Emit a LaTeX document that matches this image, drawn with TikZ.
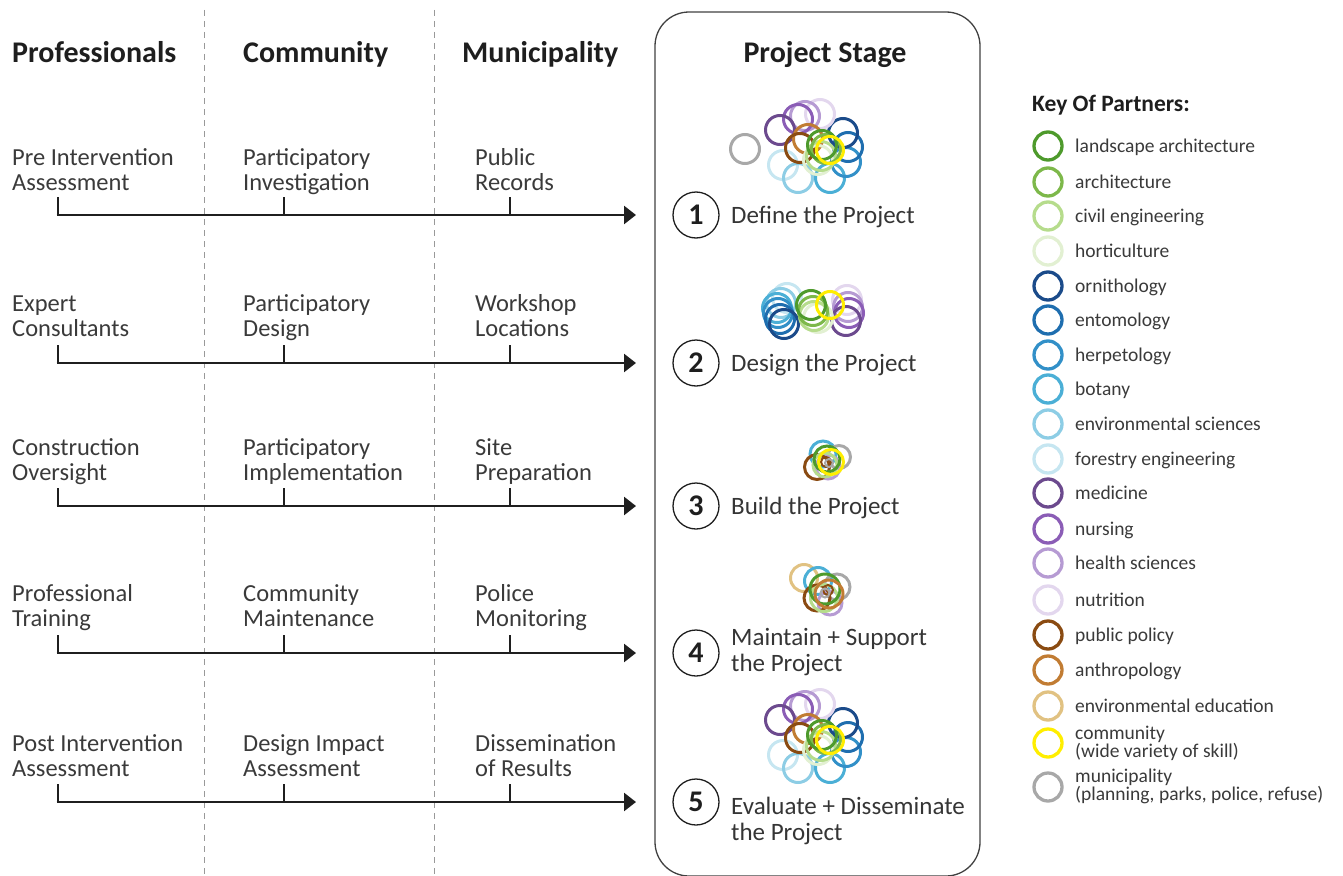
\documentclass[tikz,border=0pt]{standalone}
\usepackage{fontspec}
\setmainfont{Carlito}
\usetikzlibrary{arrows.meta}

% partner colours
\definecolor{cLand}{HTML}{4E9A2C}
\definecolor{cArch}{HTML}{7DB84A}
\definecolor{cCivil}{HTML}{B6DC8C}
\definecolor{cHort}{HTML}{E2F0D2}
\definecolor{cOrni}{HTML}{1B4B8A}
\definecolor{cEnto}{HTML}{1F6EAF}
\definecolor{cHerp}{HTML}{3290C8}
\definecolor{cBota}{HTML}{4BAFD6}
\definecolor{cEnvs}{HTML}{8DCDE5}
\definecolor{cFore}{HTML}{C6E6F1}
\definecolor{cMedi}{HTML}{6C4A8E}
\definecolor{cNurs}{HTML}{8B5DB6}
\definecolor{cHeal}{HTML}{B69BD3}
\definecolor{cNutr}{HTML}{E3D7EE}
\definecolor{cPubl}{HTML}{8A4B12}
\definecolor{cAnth}{HTML}{C17C33}
\definecolor{cEnve}{HTML}{E1C282}
\definecolor{cComm}{HTML}{FFEE00}
\definecolor{cMuni}{HTML}{A8A8A8}
\definecolor{txt}{HTML}{3A3A3A}
\definecolor{head}{HTML}{1E1E1E}

\newcommand{\fhead}{\fontsize{30}{32}\selectfont\bfseries}
\newcommand{\fbody}{\fontsize{24.5}{25}\selectfont}
\newcommand{\fstage}{\fontsize{25}{26}\selectfont}
\newcommand{\fkey}{\fontsize{19.5}{15.5}\selectfont}

% the large ring cluster, drawn around the origin
\newcommand{\bigcluster}{%
  \draw[ring,cFore] (-32,15) circle[radius=14.5];
  \draw[ring,cEnvs] (-17,28) circle[radius=14.5];
  \draw[ring,cBota] (15,28) circle[radius=14.5];
  \draw[ring,cHerp] (31,12) circle[radius=14.5];
  \draw[ring,cEnto] (33,-3) circle[radius=14.5];
  \draw[ring,cOrni] (28,-17) circle[radius=14.5];
  \draw[ring,cNutr] (5,-36) circle[radius=14.5];
  \draw[ring,cHeal] (-10,-34) circle[radius=14.5];
  \draw[ring,cNurs] (-17,-31) circle[radius=14.5];
  \draw[ring,cMedi] (-35,-20) circle[radius=14.5];
  \draw[ring,cAnth] (-7,-11) circle[radius=14.5];
  \draw[ring,cPubl] (-15,-2) circle[radius=14.5];
  \draw[ring,cHort] (3,10) circle[radius=14.5];
  \draw[ring,cCivil] (6,6) circle[radius=14.5];
  \draw[ring,cArch] (11,-1) circle[radius=14.5];
  \draw[ring,cLand] (7,-5) circle[radius=14.5];
  \draw[ring,cComm] (15,0) circle[radius=13.5];
}

\begin{document}
\begin{tikzpicture}[x=1pt,y=-1pt,
  ring/.style={line width=3pt},
  keyring/.style={line width=3.3pt},
  divider/.style={draw=black!40,line width=1pt,dash pattern=on 6pt off 5pt},
  flow/.style={line width=2.6pt,draw=black!88,-{Triangle[length=12pt,width=18pt]}},
  tick/.style={line width=2.6pt,draw=black!88},
  heading/.style={font=\fhead,text=head,inner sep=0pt},
  lbl/.style={font=\fbody,text=txt,align=left,inner sep=0pt,anchor=base west},
  stagetxt/.style={font=\fstage,text=head!90,align=left,inner sep=0pt,anchor=base west},
  num/.style={circle,draw=head,line width=1.3pt,minimum size=46pt,inner sep=0pt,font=\fontsize{30}{30}\selectfont\bfseries,text=head},
  keytxt/.style={font=\fkey,text=txt,align=left,inner sep=0pt,anchor=base west}]

\useasboundingbox (0,0) rectangle (1343,875);

% column dividers
\draw[divider] (204,10) -- (204,875);
\draw[divider] (434,10) -- (434,875);

% stage panel
\draw[draw=head!85,line width=1.3pt,rounded corners=34pt] (655,12) rectangle (980,876);

% headings
\node[heading,anchor=base west] (hProf) at (12,63) {Professionals};
\node[heading,anchor=base west] (hComm) at (243,63) {Community};
\node[heading,anchor=base west] (hMuni) at (462,63) {Municipality};
\node[heading,anchor=base] (hStage) at (825,63) {Project Stage};
\node[heading,anchor=base west,font=\fontsize{23.5}{25}\selectfont\bfseries] (hKey) at (1032,111) {Key Of Partners:};

% timeline rows: start, ticks and arrow ends
\foreach \r/\y in {1/215,2/363,3/506,4/653,5/802}{
  \coordinate (s\r) at (58,\y);
  \coordinate (st\r) at (58,\y-18);
  \coordinate (m\r) at (284,\y);
  \coordinate (mt\r) at (284,\y-18);
  \coordinate (e\r) at (510,\y);
  \coordinate (et\r) at (510,\y-18);
  \coordinate (end\r) at (636,\y);
  \draw[tick] (st\r) -- (s\r);
  \draw[tick] (mt\r) -- (m\r);
  \draw[tick] (et\r) -- (e\r);
  \draw[flow] ([xshift=-1.3pt]s\r) -- (end\r);
}

% row labels (anchored on the baseline of the second line)
\node[lbl] (p1) at (12,190) {Pre Intervention\\Assessment};
\node[lbl] (c1) at (243,190) {Participatory\\Investigation};
\node[lbl] (u1) at (475,190) {Public\\Records};
\node[lbl] (p2) at (12,336) {Expert\\Consultants};
\node[lbl] (c2) at (243,336) {Participatory\\Design};
\node[lbl] (u2) at (475,336) {Workshop\\Locations};
\node[lbl] (p3) at (12,480) {Construction\\Oversight};
\node[lbl] (c3) at (243,480) {Participatory\\Implementation};
\node[lbl] (u3) at (475,480) {Site\\Preparation};
\node[lbl] (p4) at (12,626) {Professional\\Training};
\node[lbl] (c4) at (243,626) {Community\\Maintenance};
\node[lbl] (u4) at (475,626) {Police\\Monitoring};
\node[lbl] (p5) at (12,776) {Post Intervention\\Assessment};
\node[lbl] (c5) at (243,776) {Design Impact\\Assessment};
\node[lbl] (u5) at (475,776) {Dissemination\\of Results};

% stages
\node[num] (n1) at (696,215) {1};
\node[stagetxt] (t1) at (731,223) {Define the Project};
\node[num] (n2) at (696,363) {2};
\node[stagetxt] (t2) at (731,371) {Design the Project};
\node[num] (n3) at (696,506) {3};
\node[stagetxt] (t3) at (731,514) {Build the Project};
\node[num] (n4) at (696,653) {4};
\node[stagetxt] (t4) at (731,671) {Maintain + Support\\the Project};
\node[num] (n5) at (696,802) {5};
\node[stagetxt] (t5) at (731,840) {Evaluate + Disseminate\\the Project};

% stage 1 partners
\draw[ring,cMuni] (745,149) circle[radius=14.5];
\begin{scope}[shift={(815,150)}]
  \bigcluster
\end{scope}

% stage 2 partners
\draw[ring,cFore] (787,298) circle[radius=14.5];
\draw[ring,cEnvs] (781,303) circle[radius=14.5];
\draw[ring,cBota] (777,308) circle[radius=14.5];
\draw[ring,cHerp] (778,313) circle[radius=14.5];
\draw[ring,cEnto] (780,319) circle[radius=14.5];
\draw[ring,cOrni] (784,324) circle[radius=14.5];
\draw[ring,cNutr] (847,300) circle[radius=14.5];
\draw[ring,cHeal] (848,307) circle[radius=14.5];
\draw[ring,cNurs] (849,313) circle[radius=14.5];
\draw[ring,cMedi] (846,321) circle[radius=14.5];
\draw[ring,cHort] (818,318) circle[radius=14.5];
\draw[ring,cCivil] (814,316) circle[radius=14.5];
\draw[ring,cArch] (813,311) circle[radius=14.5];
\draw[ring,cLand] (811,305) circle[radius=14.5];
\draw[ring,cComm] (830,305) circle[radius=13.5];

% stage 3 partners
\draw[ring,cBota] (823,454) circle[radius=13];
\draw[ring,cMuni] (839,457) circle[radius=11.5];
\draw[ring,cHeal] (828,467) circle[radius=12];
\draw[ring,cPubl] (817,467) circle[radius=12.5];
\draw[ring,cCivil] (825,465) circle[radius=12];
\draw[ring,cLand] (827,459) circle[radius=13];
\draw[ring,cPubl,line width=2pt] (826,462) circle[radius=5];
\draw[ring,cMuni,line width=2pt] (829,463) circle[radius=4];
\draw[ring,cComm] (831,462) circle[radius=12.5];

% stage 4 partners
\draw[ring,cEnve] (804,578) circle[radius=13.5];
\draw[ring,cBota] (818,581) circle[radius=13.5];
\draw[ring,cMuni] (837,587) circle[radius=13];
\draw[ring,cHeal] (830,603) circle[radius=12];
\draw[ring,cPubl] (817,598) circle[radius=13];
\draw[ring,cCivil] (824,598) circle[radius=13.5];
\draw[ring,cLand] (825,589) circle[radius=15];
\draw[ring,cAnth] (829,594) circle[radius=14];
\draw[ring,cPubl,line width=2pt] (828,590) circle[radius=5];
\draw[ring,cMuni,line width=2pt] (825,593) circle[radius=4.5];

% stage 5 partners
\begin{scope}[shift={(815,740)}]
  \bigcluster
\end{scope}

% key of partners
\foreach \c/\y/\name in {cLand/146/landscape architecture, cArch/182/architecture,
  cCivil/216/civil engineering, cHort/251/horticulture, cOrni/286/ornithology,
  cEnto/320/entomology, cHerp/355/herpetology, cBota/389/botany,
  cEnvs/424/environmental sciences, cFore/459/forestry engineering,
  cMedi/493/medicine, cNurs/529/nursing, cHeal/563/health sciences,
  cNutr/600/nutrition, cPubl/635/public policy, cAnth/670/anthropology,
  cEnve/706/environmental education}{
  \draw[keyring,\c] (1048,\y) circle[radius=14];
  \node[keytxt] (k\c) at (1075,\y+6.3) {\name};
}
\draw[keyring,cComm] (1048,743) circle[radius=14];
\node[keytxt] (kcComm) at (1075,757.5) {community\\(wide variety of skill)};
\draw[keyring,cMuni] (1048,787) circle[radius=14];
\node[keytxt] (kcMuni) at (1075,800.5) {municipality\\(planning, parks, police, refuse)};

\end{tikzpicture}
\end{document}
